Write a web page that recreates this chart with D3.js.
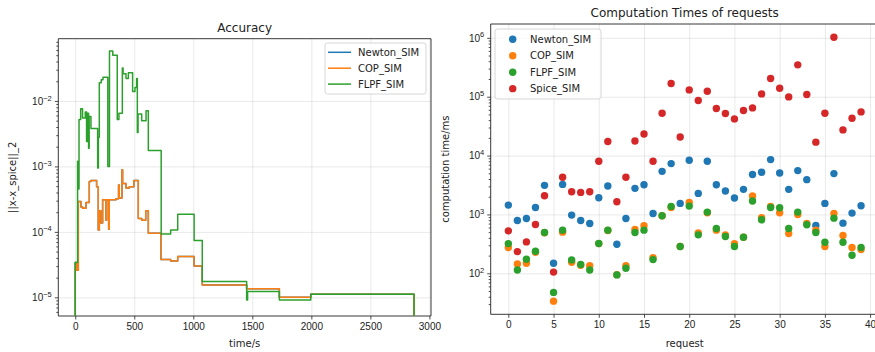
<!DOCTYPE html>
<html>
<head>
<meta charset="utf-8">
<script src="https://cdn.jsdelivr.net/npm/d3@7/dist/d3.min.js"></script>
<style>
  body { margin: 0; background: #fff; }
  svg { font-family: "DejaVu Sans", sans-serif; }
  .axis text { font-size: 10px; fill: #222; }
  .axis path, .axis line { stroke: #222; stroke-width: 0.8; }
  .grid line { stroke: #b0b0b0; stroke-opacity: 0.35; stroke-width: 0.8; }
  .grid path { display: none; }
</style>
</head>
<body>
<div id="chart"></div>
<script>
// ---- accuracy (step lines), time in s / error norm
// values that hit the bottom of the plot are logged as ~0
const ZERO = 1e-7;

const copTimes = [0, 0, 12, 26, 48, 62, 91, 119, 133, 181, 195, 204, 218, 232, 260, 266, 283, 288, 345, 367, 373, 396, 401, 430, 458, 497, 534, 563, 597, 619, 726, 808, 868, 1006, 1076, 1452, 1729, 1995, 2870];
const copErr = [ZERO, 3.4e-5, 2.6e-5, 2.9e-4, 2.4e-4, 2.3e-4, 2.8e-4, 5.9e-4, 6.1e-4, 4.9e-4, 1.07e-4, 2.1e-4, 1.37e-4, 3.1e-4, 1.5e-4, 3.1e-4, 1.1e-4, 3.1e-4, 3.2e-4, 5.2e-4, 3.3e-4, 8.9e-4, 5.5e-4, 4.7e-4, 4.9e-4, 6.1e-4, 1.6e-4, 1.5e-4, 2.1e-4, 9.5e-5, 3.8e-5, 3.6e-5, 4.2e-5, 3.0e-5, 1.55e-5, 1.35e-5, 1.0e-5, 1.12e-5, ZERO];

// Newton_SIM lies exactly under COP_SIM in the picture
const newtonTimes = copTimes;
const newtonErr = copErr;

const flpfTimes = [0, 0, 20, 26, 32, 46, 62, 85, 96, 102, 113, 118, 133, 190, 196, 204, 220, 235, 276, 290, 318, 356, 370, 399, 405, 430, 450, 486, 506, 520, 526, 532, 563, 600, 619, 728, 808, 868, 1007, 1076, 1452, 1460, 1729, 1995, 2870];
const flpfErr = [ZERO, 3.4e-5, 1.2e-3, 4.5e-4, 5.2e-3, 7.6e-3, 5.5e-3, 6.8e-3, 2.4e-3, 6.5e-3, 1.9e-3, 5.8e-3, 3.8e-3, 9.5e-4, 2.8e-3, 1.9e-2, 2.1e-2, 2.3e-2, 1.0e-3, 5.8e-2, 5.0e-2, 5.2e-3, 6.5e-3, 3.2e-2, 2.6e-2, 2.2e-2, 2.7e-2, 1.4e-2, 1.6e-2, 2.2e-2, 3.3e-3, 6.3e-3, 5.0e-3, 7.1e-3, 1.75e-3, 9.3e-5, 1.07e-4, 1.86e-4, 7.4e-5, 1.74e-5, 9.1e-6, 1.23e-5, 9.1e-6, 1.12e-5, ZERO];

const accTicksX = [0, 500, 1000, 1500, 2000, 2500, 3000];
const accTicksY = [1e-5, 1e-4, 1e-3, 1e-2];

// ---- computation times per request, ms
const requests = d3.range(40);
const newtonMs = [1443, 790, 855, 1315, 3120, 148, 3240, 975, 790, 703, 1925, 3040, 312, 855, 2775, 3200, 1040, 5400, 7310, 1540, 8340, 2280, 8020, 3200, 2500, 1900, 2670, 4780, 5210, 8550, 5070, 2670, 5560, 3900, 650, 1540, 4940, 711, 1054, 1405];
const copMs = [274, 144, 148, 228, 490, 33.7, 500, 154, 137, 135, 320, 535, 95, 135, 555, 641, 185, 950, 1315, 285, 1600, 487, 1068, 541, 450, 320, 411, 2054, 877, 1370, 1068, 474, 1000, 703, 541, 285, 1040, 439, 274, 253];
const flpfMs = [320, 114, 173, 237, 493, 47.4, 541, 169, 141, 114, 322, 541, 94, 122, 493, 541, 171, 950, 1370, 285, 1387, 450, 1096, 577, 422, 285, 411, 1688, 811, 1315, 1300, 577, 1096, 667, 493, 337, 866, 337, 203, 274];
const spiceMs = [527, 234, 342, 675, 2080, 105, 4280, 2430, 2370, 2430, 8020, 17300, 1645, 4280, 17700, 23300, 8020, 52500, 167500, 20700, 130600, 86100, 124000, 63000, 51800, 42000, 58200, 64600, 111600, 203700, 139400, 99300, 347700, 108800, 16900, 52500, 1026000, 27300, 43100, 55200];

const timeTicksX = [0, 5, 10, 15, 20, 25, 30, 35, 40];
const timeTicksY = [1e2, 1e3, 1e4, 1e5, 1e6];

const colors = { newton: '#1f77b4', cop: '#ff7f0e', flpf: '#2ca02c', spice: '#d62728' };

const svg = d3.select('#chart').append('svg')
  .attr('width', 875)
  .attr('height', 352);

function minorValues(domain) {
  const lo = Math.floor(Math.log10(domain[0]));
  const hi = Math.ceil(Math.log10(domain[1]));
  const out = [];
  for (let e = lo; e <= hi; e++) {
    for (let k = 2; k <= 9; k++) {
      const v = k * Math.pow(10, e);
      if (v >= domain[0] && v <= domain[1]) out.push(v);
    }
  }
  return out;
}

// writes 10 with a superscript exponent in every tick label
function powerLabels(g) {
  g.selectAll('.tick text').each(function(d) {
    const exp = Math.round(Math.log10(d));
    const t = d3.select(this).text('');
    t.append('tspan').text('10');
    t.append('tspan')
      .attr('dy', '-0.55em')
      .style('font-size', '7.5px')
      .text(String(exp).replace('-', '\u2212'));
  });
}

function frame(box, x, y, xTicks, yTicks, spines) {
  const g = svg.append('g');
  // grid
  g.append('g').attr('class', 'grid')
    .attr('transform', `translate(0,${box.y1})`)
    .call(d3.axisBottom(x).tickValues(xTicks).tickSize(-(box.y1 - box.y0)).tickFormat(''));
  g.append('g').attr('class', 'grid')
    .attr('transform', `translate(${box.x0},0)`)
    .call(d3.axisLeft(y).tickValues(yTicks).tickSize(-(box.x1 - box.x0)).tickFormat(''));

  // axes
  const xa = g.append('g').attr('class', 'axis')
    .attr('transform', `translate(0,${box.y1})`)
    .call(d3.axisBottom(x).tickValues(xTicks).tickFormat(d3.format('d'))
      .tickSize(3.5).tickPadding(3).tickSizeOuter(0));
  xa.select('.domain').remove();

  const ya = g.append('g').attr('class', 'axis')
    .attr('transform', `translate(${box.x0},0)`)
    .call(d3.axisLeft(y).tickValues(yTicks).tickSize(3.5).tickPadding(3).tickSizeOuter(0));
  ya.select('.domain').remove();
  ya.call(powerLabels);

  g.append('g').attr('class', 'axis')
    .attr('transform', `translate(${box.x0},0)`)
    .call(d3.axisLeft(y).tickValues(minorValues(y.domain())).tickSize(2).tickFormat(''))
    .select('.domain').remove();

  // spines
  spines.forEach(s => {
    const p = {
      left: [box.x0, box.y0, box.x0, box.y1],
      right: [box.x1, box.y0, box.x1, box.y1],
      top: [box.x0, box.y0, box.x1, box.y0],
      bottom: [box.x0, box.y1, box.x1, box.y1]
    }[s];
    g.append('line')
      .attr('x1', p[0]).attr('y1', p[1]).attr('x2', p[2]).attr('y2', p[3])
      .attr('stroke', '#222').attr('stroke-width', 0.9);
  });
  return g;
}

function texts(box, title, xLabel, yLabel, yLabelX, titleY) {
  const cx = (box.x0 + box.x1) / 2;
  svg.append('text')
    .attr('x', cx).attr('y', titleY)
    .attr('text-anchor', 'middle')
    .style('font-size', '12px').style('fill', '#222')
    .text(title);
  svg.append('text')
    .attr('x', cx).attr('y', 347)
    .attr('text-anchor', 'middle')
    .style('font-size', '10px').style('fill', '#222')
    .text(xLabel);
  svg.append('text')
    .attr('transform', `translate(${yLabelX},${(box.y0 + box.y1) / 2}) rotate(-90)`)
    .attr('text-anchor', 'middle')
    .style('font-size', '10px').style('fill', '#222')
    .text(yLabel);
}

function drawAccuracy() {
  const box = { x0: 58.3, x1: 431, y0: 38.7, y1: 316 };
  const x = d3.scaleLinear().domain([-143.5, 3013.5]).range([box.x0, box.x1]);
  const y = d3.scaleLog().domain([5.19e-6, 0.0893]).range([box.y1, box.y0]);

  frame(box, x, y, accTicksX, accTicksY, ['left', 'right', 'top', 'bottom']);

  svg.append('clipPath').attr('id', 'clip-acc')
    .append('rect')
    .attr('x', box.x0).attr('y', box.y0)
    .attr('width', box.x1 - box.x0).attr('height', box.y1 - box.y0);

  const line = d3.line()
    .curve(d3.curveStepAfter)
    .x(d => x(d[0]))
    .y(d => y(d[1]));

  const series = [
    { key: 'newton', times: newtonTimes, vals: newtonErr },
    { key: 'cop', times: copTimes, vals: copErr },
    { key: 'flpf', times: flpfTimes, vals: flpfErr }
  ];

  svg.append('g').attr('clip-path', 'url(#clip-acc)')
    .selectAll('path')
    .data(series)
    .join('path')
    .attr('fill', 'none')
    .attr('stroke', d => colors[d.key])
    .attr('stroke-width', 1.5)
    .attr('stroke-linejoin', 'round')
    .attr('d', d => line(d.times.map((t, i) => [t, d.vals[i]])));

  texts(box, 'Accuracy', 'time/s', '||x-x_spice||_2', 16, 32);

  // legend
  const lg = svg.append('g');
  lg.append('rect')
    .attr('x', 325).attr('y', 43).attr('width', 101).attr('height', 51).attr('rx', 2.5)
    .attr('fill', '#fff').attr('fill-opacity', 0.8)
    .attr('stroke', '#ccc').attr('stroke-width', 0.8);
  const names = [['newton', 'Newton_SIM'], ['cop', 'COP_SIM'], ['flpf', 'FLPF_SIM']];
  names.forEach((n, i) => {
    const yy = 52.3 + i * 15.9;
    lg.append('line')
      .attr('x1', 328).attr('x2', 351).attr('y1', yy).attr('y2', yy)
      .attr('stroke', colors[n[0]]).attr('stroke-width', 1.5);
    lg.append('text')
      .attr('x', 358).attr('y', yy).attr('dy', '0.35em')
      .style('font-size', '10px').style('fill', '#222')
      .text(n[1]);
  });
}

function drawTimes() {
  const box = { x0: 490.7, x1: 878.7, y0: 24, y1: 314.3 };
  const x = d3.scaleLinear().domain([-1.95, 40.95]).range([box.x0, box.x1]);
  const y = d3.scaleLog().domain([Math.pow(10, 1.304), Math.pow(10, 6.235)]).range([box.y1, box.y0]);

  frame(box, x, y, timeTicksX, timeTicksY, ['left', 'right', 'top', 'bottom']);

  const series = [
    { key: 'newton', vals: newtonMs },
    { key: 'cop', vals: copMs },
    { key: 'flpf', vals: flpfMs },
    { key: 'spice', vals: spiceMs }
  ];

  series.forEach(s => {
    svg.append('g')
      .selectAll('circle')
      .data(requests)
      .join('circle')
      .attr('cx', d => x(d))
      .attr('cy', d => y(s.vals[d]))
      .attr('r', 3.7)
      .attr('fill', colors[s.key]);
  });

  texts(box, 'Computation Times of requests', 'request', 'computation time/ms', 449, 17);

  const lg = svg.append('g');
  lg.append('rect')
    .attr('x', 495).attr('y', 29).attr('width', 106).attr('height', 70).attr('rx', 2.5)
    .attr('fill', '#fff').attr('fill-opacity', 0.8)
    .attr('stroke', '#ccc').attr('stroke-width', 0.8);
  const names = [['newton', 'Newton_SIM'], ['cop', 'COP_SIM'], ['flpf', 'FLPF_SIM'], ['spice', 'Spice_SIM']];
  names.forEach((n, i) => {
    const yy = 39.3 + i * 16.45;
    lg.append('circle')
      .attr('cx', 512.7).attr('cy', yy).attr('r', 3.7)
      .attr('fill', colors[n[0]]);
    lg.append('text')
      .attr('x', 530).attr('y', yy).attr('dy', '0.35em')
      .style('font-size', '10px').style('fill', '#222')
      .text(n[1]);
  });
}

drawAccuracy();
drawTimes();
</script>
</body>
</html>
